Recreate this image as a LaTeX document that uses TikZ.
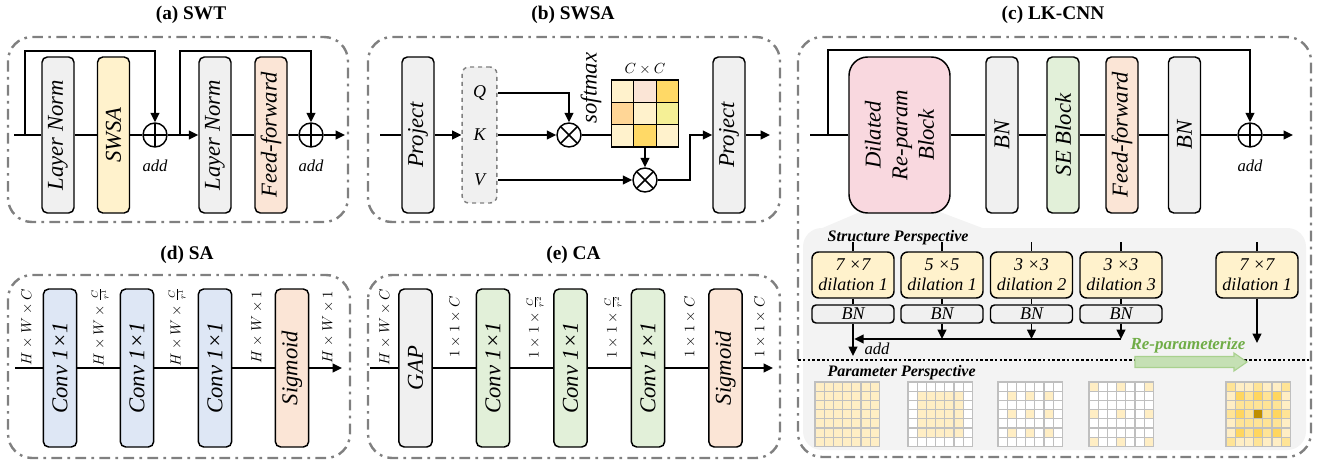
\documentclass[tikz,border=0pt]{standalone}
\usepackage{fontspec}
\setmainfont{Liberation Serif}
\usetikzlibrary{arrows.meta}

\definecolor{cgray}{RGB}{240,240,240}
\definecolor{cyellow}{RGB}{255,242,204}
\definecolor{cpeach}{RGB}{251,229,214}
\definecolor{cblue}{RGB}{222,231,245}
\definecolor{cgreen}{RGB}{226,240,217}
\definecolor{cpink}{RGB}{249,216,223}
\definecolor{cregion}{RGB}{243,243,243}
\definecolor{cframe}{RGB}{128,128,128}
\definecolor{gtext}{RGB}{112,173,71}
\definecolor{garrow}{RGB}{197,224,180}
\definecolor{gborder}{RGB}{169,209,142}
\definecolor{kern0}{RGB}{255,255,255}
\definecolor{kern1}{RGB}{255,238,196}
\definecolor{kern2}{RGB}{255,228,150}
\definecolor{kern3}{RGB}{255,214,95}
\definecolor{kern4}{RGB}{191,142,0}
\definecolor{m1}{RGB}{255,242,204}
\definecolor{m2}{RGB}{251,229,214}
\definecolor{m3}{RGB}{255,217,102}
\definecolor{m4}{RGB}{255,214,150}
\definecolor{m5}{RGB}{245,240,150}

\tikzset{
  line/.style={line width=1.4pt},
  arr/.style={line, -{Triangle[length=7pt,width=6.5pt]}},
  frame/.style={draw=cframe, line width=1.8pt, rounded corners=18pt,
    dash pattern=on 8pt off 4pt on 2pt off 4pt},
  blk/.style={draw, line width=1.1pt, rounded corners=4pt, rotate=90,
    minimum width=117pt, minimum height=24pt, inner sep=0pt,
    font=\fontsize{17}{20}\selectfont\itshape},
  title/.style={font=\fontsize{14.5}{16}\selectfont\bfseries},
  lbl/.style={font=\fontsize{12.5}{14}\selectfont\itshape},
  dim/.style={rotate=90, font=\fontsize{10.5}{12}\selectfont},
  oplus/.style={circle, draw, line width=1.1pt, minimum size=18pt, inner sep=0pt,
    path picture={\draw[line width=1.1pt]
      (path picture bounding box.north) -- (path picture bounding box.south)
      (path picture bounding box.west) -- (path picture bounding box.east);}},
  otimes/.style={circle, draw, line width=1.1pt, minimum size=18pt, inner sep=0pt,
    path picture={\draw[line width=1.1pt]
      (path picture bounding box.north west) -- (path picture bounding box.south east)
      (path picture bounding box.south west) -- (path picture bounding box.north east);}},
  kbox/.style={draw, line width=1.1pt, fill=cyellow, rounded corners=5pt,
    minimum width=61.5pt, minimum height=34.5pt, inner sep=0pt, align=center,
    font=\fontsize{13.5}{15}\selectfont\itshape},
  bnbox/.style={draw, line width=1.1pt, fill=cgray, rounded corners=3pt,
    minimum width=61.5pt, minimum height=13.5pt, inner sep=0pt,
    font=\fontsize{13.5}{15}\selectfont\itshape},
  persp/.style={anchor=west, font=\fontsize{12}{14}\selectfont\bfseries\itshape},
}

\begin{document}
\begin{tikzpicture}[x=0.75pt,y=-0.75pt]
  \useasboundingbox (0,0) rectangle (1318,460);

  % (a) SWT
  \node[title] (ta) at (191,15) {(a) SWT};
  \draw[frame] (8,37) rectangle (348,222);
  \coordinate (ain) at (14,135);
  \coordinate (as1) at (25,135);
  \coordinate (as2) at (180,135);
  \coordinate (aout) at (345,135);
  \node[blk, fill=cgray] (aln1) at (58,135) {Layer Norm};
  \node[blk, fill=cyellow] (aswsa) at (113.5,135) {SWSA};
  \node[oplus] (aadd1) at (155,135) {};
  \node[blk, fill=cgray] (aln2) at (215,135) {Layer Norm};
  \node[blk, fill=cpeach] (aff) at (271,135) {Feed-forward};
  \node[oplus] (aadd2) at (311,135) {};
  \node[lbl] (aaddl1) at (155,166) {add};
  \node[lbl] (aaddl2) at (311,166) {add};
  \draw[line] (ain) -- (aln1);
  \draw[line] (aln1) -- (aswsa);
  \draw[line] (aswsa) -- (aadd1);
  \draw[arr] (aadd1) -- (aln2);
  \draw[line] (aln2) -- (aff);
  \draw[line] (aff) -- (aadd2);
  \draw[arr] (aadd2) -- (aout);
  \draw[arr] (as1) -- ++(0,-84) -| (aadd1);
  \draw[arr] (as2) -- ++(0,-84) -| (aadd2);

  % (b) SWSA
  \node[title] (tb) at (573,15) {(b) SWSA};
  \draw[frame] (368,37) rectangle (780,222);
  \coordinate (bin) at (380,135);
  \coordinate (bturn) at (690,0);
  \coordinate (bout) at (770,135);
  \node[blk, fill=cgray] (bpr1) at (418,135) {Project};
  \node[draw=cframe, fill=cgray, line width=1.1pt, dashed, rounded corners=5pt,
    minimum width=26pt, minimum height=102pt] (bqkv) at (479.5,135) {};
  \node[font=\fontsize{13.5}{15}\selectfont\itshape] (bq) at (479.5,93) {Q};
  \node[font=\fontsize{13.5}{15}\selectfont\itshape] (bk) at (479.5,135) {K};
  \node[font=\fontsize{13.5}{15}\selectfont\itshape] (bv) at (479.5,180) {V};
  \node[otimes] (bmul1) at (569,135) {};
  \node[rotate=90, font=\fontsize{17}{20}\selectfont\itshape] (bsoft) at (591,88) {softmax};
  \node[minimum size=50.25pt, inner sep=0pt] (batt) at (645,113.5) {};
  \foreach \r/\c/\col in {0/0/m1,0/1/m2,0/2/m3,1/0/m4,1/1/m1,1/2/m5,2/0/m1,2/1/m3,2/2/m1}
    \filldraw[fill=\col, draw=black, line width=0.9pt]
      ({611.5+\c*22.33},{80+\r*22.33}) rectangle ++(22.33,22.33);
  \node[font=\fontsize{11}{12}\selectfont, above=0pt] (bcc) at (batt.north) {$C\times C$};
  \node[otimes] (bmul2) at (645,180) {};
  \node[blk, fill=cgray] (bpr2) at (729,135) {Project};
  \draw[line] (bin) -- (bpr1);
  \draw[arr] (bpr1) -- (bqkv);
  \draw[arr] (bq.east -| bqkv.east) -| (bmul1);
  \draw[arr] (bk -| bqkv.east) -- (bmul1);
  \draw[arr] (bv -| bqkv.east) -- (bmul2);
  \draw[line] (bmul1) -- (bmul1 -| batt.west);
  \draw[arr] (batt) -- (bmul2);
  \draw[arr] (bmul2) -- (bmul2 -| bturn) |- (bpr2);
  \draw[arr] (bpr2) -- (bout);

  % (c) LK-CNN
  \node[title] (tc) at (1053,15) {(c) LK-CNN};
  \draw[frame] (798,37) rectangle (1311,457);
  \fill[cregion, rounded corners=14pt] (803,228) rectangle (1306,450);
  \fill[cregion] (860,212) -- (940,212) -- (985,229) -- (820,229) -- cycle;
  \coordinate (cin) at (810,135);
  \coordinate (cs) at (828,135);
  \coordinate (cout) at (1293,135);
  \node[blk, fill=cpink, minimum height=75.75pt, rounded corners=14pt, align=center]
    (cdrb) at (899.5,135) {Dilated\\Re-param\\Block};
  \node[blk, fill=cgray] (cbn1) at (1002,135) {BN};
  \node[blk, fill=cgreen] (cse) at (1063,135) {SE Block};
  \node[blk, fill=cpeach] (cff) at (1122,135) {Feed-forward};
  \node[blk, fill=cgray] (cbn2) at (1184.5,135) {BN};
  \node[oplus] (cadd) at (1250,135) {};
  \node[lbl] (caddl) at (1250,166) {add};
  \draw[line] (cin) -- (cdrb);
  \draw[line] (cdrb) -- (cbn1);
  \draw[line] (cbn1) -- (cse);
  \draw[line] (cse) -- (cff);
  \draw[line] (cff) -- (cbn2);
  \draw[line] (cbn2) -- (cadd);
  \draw[arr] (cadd) -- (cout);
  \draw[arr] (cs) -- ++(0,-85) -| (cadd);

  % 结构视角
  \node[persp] (cstr) at (823,238) {Structure Perspective};
  \foreach \n/\x/\k/\d in {1/853/7/1,2/942/5/1,3/1031.5/3/2,4/1121/3/3,5/1257/7/1} {
    \node[kbox] (ck\n) at (\x,275) {\k{} ×\k\\dilation \d};
    \draw[line] (ck\n.north) -- ++(0,-9);
  }
  \foreach \n/\x in {1/853,2/942,3/1031.5,4/1121} {
    \node[bnbox] (cb\n) at (\x,314) {BN};
    \draw[line] (ck\n) -- (cb\n);
  }
  \coordinate (cbus) at (0,339);
  \coordinate (csum) at (853,356);
  \coordinate (ck5end) at (1257,343);
  \foreach \n in {2,3,4}
    \draw[arr] (cb\n) -- (cb\n |- cbus);
  \draw[arr] (cb4 |- cbus) -- ([xshift=1pt]cb1 |- cbus);
  \draw[arr] (cb1) -- (csum);
  \node[lbl] (caddl2) at (877,349) {add};
  \draw[arr] (ck5) -- (ck5end);

  % 重参数化
  \draw[line width=2pt, dash pattern=on 2pt off 1.6pt] (798,360) -- (1311,360);
  \filldraw[fill=garrow, draw=gborder, line width=0.8pt]
    (1135,356.5) -- (1234,356.5) -- (1234,353) -- (1247,362) -- (1234,371)
    -- (1234,367.5) -- (1135,367.5) -- cycle;
  \node[font=\fontsize{12.7}{14}\selectfont\bfseries\itshape, text=gtext]
    (crep) at (1188,345) {Re-parameterize};

  % 参数视角
  \node[persp] (cpar) at (823,373) {Parameter Perspective};
  \foreach \g/\gx in {1/815,2/908,3/998,4/1089,5/1226}
    \foreach \i in {0,...,6}
      \foreach \j in {0,...,6} {
        \pgfmathtruncatemacro\ta{(\i>0)*(\i<6)*(\j>0)*(\j<6)}
        \pgfmathtruncatemacro\tb{(mod(\i,2)==1)*(mod(\j,2)==1)}
        \pgfmathtruncatemacro\tc{(mod(\i,3)==0)*(mod(\j,3)==0)}
        \pgfmathtruncatemacro\lv{\g==1 ? 1 : (\g==2 ? \ta : (\g==3 ? \tb : (\g==4 ? \tc : 1+\ta+\tb+\tc)))}
        \filldraw[fill=kern\lv, draw=black!25, line width=1pt]
          ({\gx+\j*9.2},{382+\i*9.2}) rectangle ++(9.2,9.2);
      }

  % (d) SA
  \node[title] (td) at (187,255) {(d) SA};
  \draw[frame] (8,275) rectangle (350,458);
  \coordinate (din) at (15,368);
  \coordinate (dout) at (342,368);
  \node[blk, fill=cblue, minimum width=118.5pt, minimum height=25pt] (dc1) at (60,368) {Conv 1×1};
  \node[blk, fill=cblue, minimum width=118.5pt, minimum height=25pt] (dc2) at (137,368) {Conv 1×1};
  \node[blk, fill=cblue, minimum width=118.5pt, minimum height=25pt] (dc3) at (215,368) {Conv 1×1};
  \node[blk, fill=cpeach, minimum width=118.5pt, minimum height=25pt] (dsig) at (292,368) {Sigmoid};
  \draw[line] (din) -- (dc1);
  \draw[line] (dc1) -- (dc2);
  \draw[line] (dc2) -- (dc3);
  \draw[line] (dc3) -- (dsig);
  \draw[arr] (dsig) -- (dout);
  \node[dim] (dd0) at (27,327) {$H\times W\times C$};
  \node[dim] (dd1) at (100,327) {$H\times W\times \frac{C}{r^1}$};
  \node[dim] (dd2) at (177,327) {$H\times W\times \frac{C}{r^1}$};
  \node[dim] (dd3) at (257,327) {$H\times W\times 1$};
  \node[dim] (dd4) at (328,327) {$H\times W\times 1$};

  % (e) CA
  \node[title] (te) at (573.5,255) {(e) CA};
  \draw[frame] (368,275) rectangle (780,458);
  \coordinate (ein) at (370,368);
  \coordinate (eout) at (773,368);
  \node[blk, fill=cgray, minimum width=118.5pt, minimum height=25pt] (egap) at (415.5,368) {GAP};
  \node[blk, fill=cgreen, minimum width=118.5pt, minimum height=25pt] (ec1) at (493,368) {Conv 1×1};
  \node[blk, fill=cgreen, minimum width=118.5pt, minimum height=25pt] (ec2) at (570.5,368) {Conv 1×1};
  \node[blk, fill=cgreen, minimum width=118.5pt, minimum height=25pt] (ec3) at (648,368) {Conv 1×1};
  \node[blk, fill=cpeach, minimum width=118.5pt, minimum height=25pt] (esig) at (725.5,368) {Sigmoid};
  \draw[line] (ein) -- (egap);
  \draw[line] (egap) -- (ec1);
  \draw[line] (ec1) -- (ec2);
  \draw[line] (ec2) -- (ec3);
  \draw[line] (ec3) -- (esig);
  \draw[arr] (esig) -- (eout);
  \node[dim] (ed0) at (385,327) {$H\times W\times C$};
  \node[dim] (ed1) at (455,327) {$1\times 1\times C$};
  \node[dim] (ed2) at (535,327) {$1\times 1\times \frac{C}{r^2}$};
  \node[dim] (ed3) at (613,327) {$1\times 1\times \frac{C}{r^2}$};
  \node[dim] (ed4) at (690,327) {$1\times 1\times C$};
  \node[dim] (ed5) at (760,327) {$1\times 1\times C$};
\end{tikzpicture}
\end{document}
